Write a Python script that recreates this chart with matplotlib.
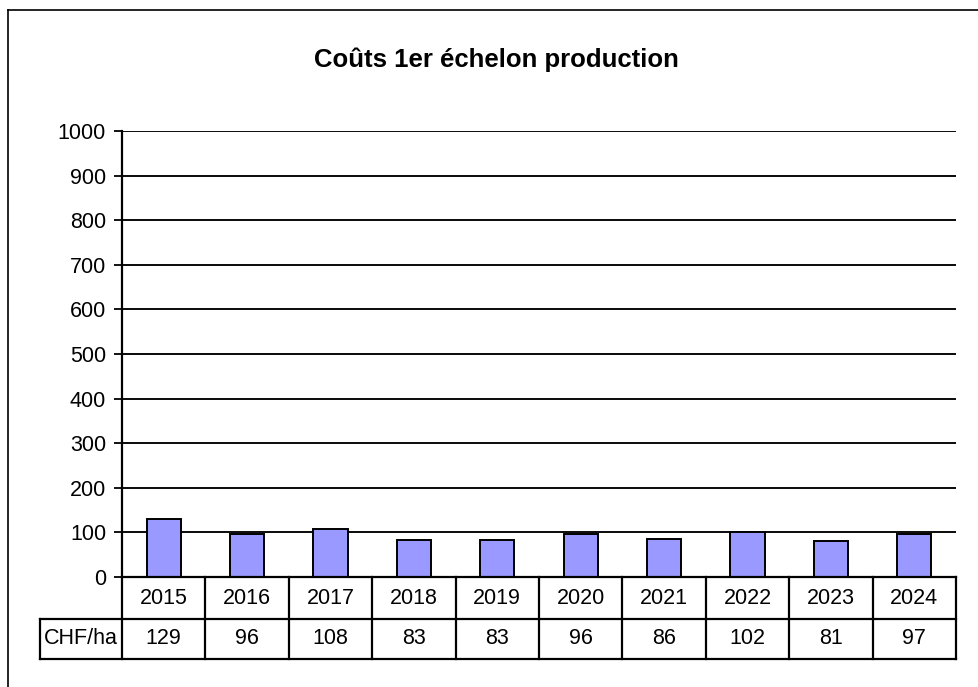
import matplotlib
matplotlib.use("Agg")
import matplotlib.pyplot as plt
from matplotlib.lines import Line2D
import matplotlib.transforms as mtransforms

years = ["2015", "2016", "2017", "2018", "2019", "2020", "2021", "2022", "2023", "2024"]
values = [129, 96, 108, 83, 83, 96, 86, 102, 81, 97]
row_label = "CHF/ha"
title = "Coûts 1er échelon production"
yticks = list(range(0, 1001, 100))

plt.rcParams["font.family"] = ["Liberation Sans", "DejaVu Sans"]

W, H = 979, 687
fig = plt.figure(figsize=(W / 100, H / 100), dpi=100)
fig.patch.set_facecolor("white")

left, right, top, bottom = 122, 956, 131, 577
ax = fig.add_axes([left / W, 1 - bottom / H, (right - left) / W, (bottom - top) / H])

x = list(range(len(years)))
ax.bar(x, values, width=0.41, color="#9999FF", edgecolor="black", linewidth=1.4, zorder=3)

ax.set_xlim(-0.5, len(years) - 0.5)
ax.set_ylim(0, 1000)
ax.set_yticks(yticks)
ax.set_yticklabels([str(t) for t in yticks], fontsize=15.5)
ax.tick_params(axis="y", direction="out", length=5.5, width=1.3, pad=6)
ax.set_xticks([])
ax.yaxis.grid(True, color="black", linewidth=1.35, zorder=0)
ax.set_axisbelow(True)
for s in ["top", "right", "bottom"]:
    ax.spines[s].set_visible(False)
ax.spines["left"].set_linewidth(1.6)

# Data table below the axes
axh = bottom - top
axw = right - left
y_row1 = -(619 - bottom) / axh
y_row2 = -(659 - bottom) / axh
x_lab = (40 - left) / axw
trans = mtransforms.blended_transform_factory(ax.transData, ax.transAxes)
lw = 1.6
kw = dict(color="black", linewidth=lw, clip_on=False, transform=ax.transAxes, zorder=5)
# horizontal lines
ax.add_line(Line2D([0, 1], [0, 0], **kw))
ax.add_line(Line2D([x_lab, 1], [y_row1, y_row1], **kw))
ax.add_line(Line2D([x_lab, 1], [y_row2, y_row2], **kw))
# vertical lines
ax.add_line(Line2D([x_lab, x_lab], [y_row1, y_row2], **kw))
ax.add_line(Line2D([0, 0], [0, y_row2], **kw))
kwd = dict(color="black", linewidth=lw, clip_on=False, transform=trans, zorder=5)
for i in range(len(years)):
    xb = i + 0.5
    ax.add_line(Line2D([xb, xb], [0, y_row2], **kwd))
for i, (yr, v) in enumerate(zip(years, values)):
    ax.text(i, y_row1 / 2, yr, transform=trans, ha="center", va="center", fontsize=15.5)
    ax.text(i, (y_row1 + y_row2) / 2, str(v), transform=trans, ha="center", va="center", fontsize=15.5)
ax.text(x_lab / 2, (y_row1 + y_row2) / 2, row_label, transform=ax.transAxes,
        ha="center", va="center", fontsize=15.5)

# Title
fig.text(496.5 / W, 1 - 67 / H, title, ha="center", va="baseline",
         fontsize=18.5, fontweight="bold")

# Outer chart frame (left and top edges visible)
fig.add_artist(Line2D([8 / W, 8 / W], [0, 1 - 10 / H], color="black", linewidth=1.2,
                      transform=fig.transFigure))
fig.add_artist(Line2D([8 / W, 1], [1 - 10 / H, 1 - 10 / H], color="black", linewidth=1.2,
                      transform=fig.transFigure))

fig.savefig("out.png", dpi=100)
